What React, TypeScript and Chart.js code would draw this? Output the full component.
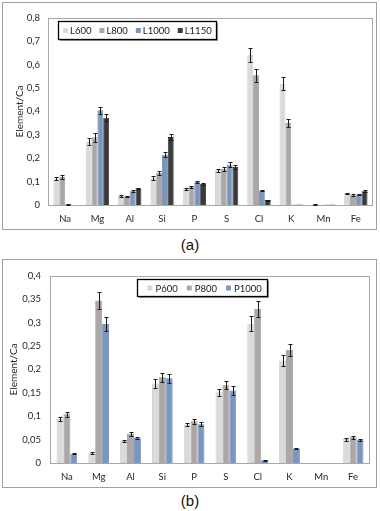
import React, { useEffect, useRef } from 'react';
import { Chart, registerables } from 'chart.js';

Chart.register(...registerables);

// ---------- data ----------
const categories = ['Na', 'Mg', 'Al', 'Si', 'P', 'S', 'Cl', 'K', 'Mn', 'Fe'];

const seriesA = ['L600', 'L800', 'L1000', 'L1150'];
const L600 = [0.113, 0.271, 0.038, 0.114, 0.069, 0.148, 0.64, 0.518, 0.003, 0.05];
const L800 = [0.12, 0.289, 0.037, 0.137, 0.078, 0.155, 0.554, 0.35, 0, 0.042];
const L1000 = [0.003, 0.405, 0.059, 0.215, 0.099, 0.172, 0.062, 0.002, 0.002, 0.045];
const L1150 = [0, 0.373, 0.071, 0.29, 0.09, 0.162, 0.021, 0.002, 0.002, 0.059];
const L600err = [0.006, 0.014, 0.003, 0.009, 0.003, 0.007, 0.03, 0.028, 0.001, 0.003];
const L800err = [0.007, 0.018, 0.003, 0.007, 0.004, 0.008, 0.028, 0.018, 0, 0.003];
const L1000err = [0.001, 0.015, 0.003, 0.01, 0.004, 0.01, 0.004, 0, 0, 0.003];
const L1150err = [0, 0.014, 0.003, 0.012, 0.005, 0.008, 0.002, 0, 0, 0.004];

const seriesB = ['P600', 'P800', 'P1000'];
const P600 = [0.094, 0.022, 0.047, 0.17, 0.082, 0.151, 0.297, 0.219, 0, 0.051];
const P800 = [0.104, 0.347, 0.062, 0.183, 0.089, 0.166, 0.329, 0.242, 0, 0.055];
const P1000 = [0.02, 0.297, 0.054, 0.181, 0.083, 0.155, 0.006, 0.031, 0, 0.049];
const P600err = [0.004, 0.002, 0.003, 0.009, 0.004, 0.007, 0.016, 0.012, 0, 0.003];
const P800err = [0.005, 0.018, 0.004, 0.01, 0.005, 0.009, 0.018, 0.013, 0, 0.003];
const P1000err = [0.001, 0.015, 0.002, 0.01, 0.005, 0.009, 0.001, 0.001, 0, 0.003];

const yTicksA = { max: 0.8, step: 0.1 };
const yTicksB = { max: 0.4, step: 0.05 };
const yTitle = 'Element/Ca';

// ---------- styles ----------
const FONT = 'Lato, "DejaVu Sans", sans-serif';
const fills = ['#dadada', '#aca6a6', '#7b96be', '#3a3a3a'];
const borders = ['#c6c6c6', '#948e8e', '#5e7aa4', '#1e1e1e'];

const errorBarPlugin = {
  id: 'errorBars',
  afterDatasetsDraw(chart: any) {
    const { ctx } = chart;
    const y = chart.scales.y;
    ctx.save();
    ctx.strokeStyle = '#1a1a1a';
    ctx.lineWidth = 1;
    chart.data.datasets.forEach((ds: any, i: number) => {
      const meta = chart.getDatasetMeta(i);
      meta.data.forEach((bar: any, j: number) => {
        const v = ds.data[j];
        const e = ds.errors ? ds.errors[j] : 0;
        if (!e) return;
        const yt = Math.round(y.getPixelForValue(v + e)) + 0.5;
        const yb = Math.round(y.getPixelForValue(v - e)) + 0.5;
        const x = Math.round(bar.x) + 0.5;
        ctx.beginPath();
        ctx.moveTo(x, yt);
        ctx.lineTo(x, yb);
        ctx.moveTo(x - 2, yt);
        ctx.lineTo(x + 2, yt);
        ctx.moveTo(x - 2, yb);
        ctx.lineTo(x + 2, yb);
        ctx.stroke();
      });
    });
    ctx.restore();
  },
};

const frameLegendPlugin = {
  id: 'frameLegend',
  beforeDatasetsDraw(chart: any) {
    const { ctx, chartArea: a } = chart;
    ctx.save();
    ctx.strokeStyle = '#a8a8a8';
    ctx.lineWidth = 1;
    ctx.strokeRect(Math.round(a.left) - 0.5, Math.round(a.top) + 0.5, Math.round(a.right - a.left) + 1, Math.round(a.bottom - a.top));
    ctx.restore();
  },
  afterDraw(chart: any) {
    const o = chart.options.plugins.boxLegend;
    if (!o) return;
    const { ctx, chartArea: a } = chart;
    ctx.save();
    ctx.font = `9.5px ${FONT}`;
    const sq = 5;
    const widths = chart.data.datasets.map((d: any) => ctx.measureText(d.label).width);
    let total = o.padL + o.padR;
    widths.forEach((w: number, i: number) => {
      total += sq + o.textGap + w + (i > 0 ? o.itemGap : 0);
    });
    const bx = Math.round(a.left + o.dx) + 0.5;
    const by = Math.round(a.top + o.dy) + 0.5;
    const bw = Math.round(total);
    const bh = o.h;
    // shadow
    ctx.fillStyle = '#9a9a9a';
    ctx.fillRect(bx + 1.5, by + 1.5, bw, bh);
    ctx.fillStyle = '#ffffff';
    ctx.fillRect(bx, by, bw, bh);
    ctx.strokeStyle = '#000000';
    ctx.lineWidth = 1.3;
    ctx.strokeRect(bx, by, bw, bh);
    let x = bx + o.padL;
    const cy = by + bh / 2;
    ctx.textBaseline = 'middle';
    ctx.textAlign = 'left';
    chart.data.datasets.forEach((d: any, i: number) => {
      if (i > 0) x += o.itemGap;
      ctx.fillStyle = d.backgroundColor;
      ctx.fillRect(x, cy - sq / 2, sq, sq);
      x += sq + o.textGap;
      ctx.fillStyle = '#222';
      ctx.fillText(d.label, x, cy + 0.5);
      x += widths[i];
    });
    ctx.restore();
  },
};

const fmt = (v: any) => String(Number(Number(v).toFixed(2))).replace('.', ',');

function makeConfig(
  names: string[],
  values: number[][],
  errors: number[][],
  yt: { max: number; step: number },
  geom: any
) {
  return {
    type: 'bar' as const,
    data: {
      labels: categories,
      datasets: names.map((n, i) => ({
        label: n,
        data: values[i],
        errors: errors[i],
        backgroundColor: fills[i],
        borderColor: borders[i],
        borderWidth: 0.8,
        categoryPercentage: geom.catPct,
        barPercentage: 1,
      })),
    },
    options: {
      responsive: false,
      animation: false,
      events: [],
      layout: { padding: { left: 0, top: geom.padTop, right: geom.padRight, bottom: 0 } },
      plugins: {
        legend: { display: false },
        tooltip: { enabled: false },
        boxLegend: geom.legend,
      },
      scales: {
        x: {
          grid: { display: false, drawTicks: false },
          border: { display: false },
          ticks: { color: '#262626', font: { family: FONT, size: 9.5 }, padding: 8, maxRotation: 0 },
          afterFit: (s: any) => {
            s.height = 24;
          },
        },
        y: {
          min: 0,
          max: yt.max,
          grid: { display: false, drawTicks: false },
          border: { display: false },
          ticks: {
            stepSize: yt.step,
            color: '#262626',
            font: { family: FONT, size: 9.5 },
            padding: geom.tickPad,
            callback: (v: any) => fmt(v),
          },
          title: {
            display: true,
            text: yTitle,
            color: '#262626',
            font: { family: FONT, size: 10 },
            padding: { top: geom.titlePad, bottom: 0 },
          },
          afterFit: (s: any) => {
            s.width = geom.yWidth;
          },
        },
      },
    },
    plugins: [frameLegendPlugin, errorBarPlugin],
  };
}

function ChartBox(props: { config: any; top: number; height: number }) {
  const ref = useRef<HTMLCanvasElement | null>(null);
  useEffect(() => {
    if (!ref.current) return;
    const c = new Chart(ref.current, props.config);
    return () => c.destroy();
  }, []);
  return (
    <div
      style={{
        position: 'absolute',
        left: 2,
        top: props.top,
        width: 373,
        height: props.height,
        border: '1px solid #a0a0a0',
        background: '#fff',
      }}
    >
      <canvas ref={ref} width={373} height={props.height} style={{ display: 'block' }} />
    </div>
  );
}

const captionStyle = (top: number): React.CSSProperties => ({
  position: 'absolute',
  left: 0,
  width: 380,
  top,
  textAlign: 'center',
  fontFamily: '"Liberation Sans", Arial, sans-serif',
  fontSize: 15,
  color: '#111',
  lineHeight: '18px',
});

export default function App() {
  const cfgA = makeConfig(
    seriesA,
    [L600, L800, L1000, L1150],
    [L600err, L800err, L1000err, L1150err],
    yTicksA,
    {
      catPct: 0.72,
      padTop: 12,
      padRight: 4,
      yWidth: 46,
      tickPad: 9,
      titlePad: 11,
      legend: { dx: 9, dy: 3, h: 18, padL: 4.5, padR: 5, textGap: 2, itemGap: 8 },
    }
  );
  const cfgB = makeConfig(
    seriesB,
    [P600, P800, P1000],
    [P600err, P800err, P1000err],
    yTicksB,
    {
      catPct: 0.65,
      padTop: 13,
      padRight: 7,
      yWidth: 48,
      tickPad: 10,
      titlePad: 5,
      legend: { dx: 86, dy: 3, h: 17, padL: 10, padR: 6, textGap: 3, itemGap: 9 },
    }
  );
  return (
    <div style={{ position: 'absolute', left: 0, top: 0, width: 380, height: 511, background: '#fff' }}>
      <ChartBox config={cfgA} top={2} height={226} />
      <div style={captionStyle(236)}>(a)</div>
      <ChartBox config={cfgB} top={259} height={227} />
      <div style={captionStyle(492)}>(b)</div>
    </div>
  );
}
